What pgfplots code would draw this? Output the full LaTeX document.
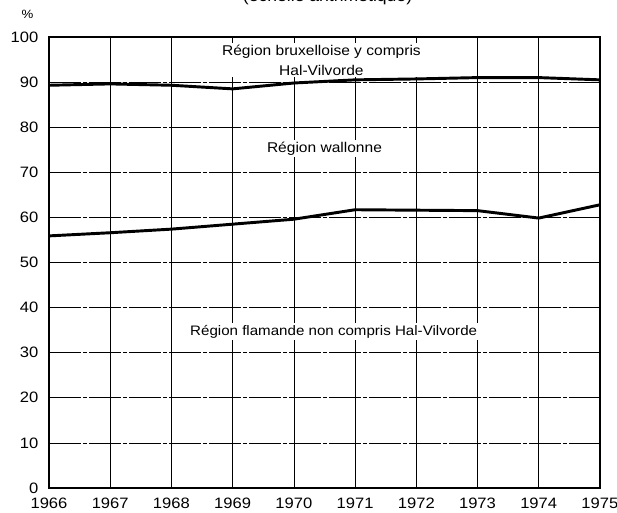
\documentclass[border=0pt]{standalone}
\usepackage{fontspec}
\setmainfont[FakeStretch=1.1]{Liberation Sans}
\usepackage{pgfplots}
\pgfplotsset{compat=1.18}
\begin{document}
\begin{tikzpicture}
\begin{axis}[
 at={(0,0)}, anchor=south west,
 scale only axis, width=413.25pt, height=338.25pt,
 xmin=1966, xmax=1975, ymin=0, ymax=100,
 xtick={1966,1967,...,1975}, ytick={0,10,...,100},
 /pgf/number format/.cd, 1000 sep={}, assume math mode=true, /pgfplots/.cd,
 tick style={draw=none},
 xmajorgrids, ymajorgrids,
 major x grid style={black, line width=0.5pt},
 major y grid style={black, line width=0.5pt, dash pattern=on 24pt off 1.5pt on 3pt off 1.5pt},
 axis line style={line width=1.5pt},
 ticklabel style={font=\fontsize{11.3}{13}\selectfont},
 xticklabel style={yshift=-4pt},
 yticklabel style={xshift=-4.5pt},
 clip=false,
]
\addplot[black, line width=2.2pt] coordinates {
 (1966,89.3) (1967,89.6) (1968,89.3) (1969,88.5) (1970,89.8)
 (1971,90.5) (1972,90.7) (1973,91.0) (1974,91.0) (1975,90.5)};
\addplot[black, line width=2.2pt] coordinates {
 (1966,55.9) (1967,56.6) (1968,57.4) (1969,58.5) (1970,59.6)
 (1971,61.7) (1972,61.6) (1973,61.5) (1974,59.85) (1975,62.8)};
\node[align=center, font=\fontsize{10.6}{15}\selectfont, fill=white, inner sep=1.5pt] at (axis cs:1970.45,94.9) {Région bruxelloise y compris\\Hal-Vilvorde};
\node[font=\fontsize{10.6}{13}\selectfont, fill=white, inner sep=1.5pt] at (axis cs:1970.5,75.3) {Région wallonne};
\node[font=\fontsize{10.3}{13}\selectfont, fill=white, inner sep=1.5pt] at (axis cs:1970.65,34.6) {Région flamande non compris Hal-Vilvorde};
\node[font=\fontsize{9}{11}\selectfont] at (axis cs:1965.65,105.1) {\%};
\node[font=\fontsize{12}{14}\selectfont] at (axis cs:1970.55,108.9) {(échelle arithmétique)};
\end{axis}
\pgfresetboundingbox
\useasboundingbox (-36.75pt,-18pt) rectangle (426pt,366pt);
\end{tikzpicture}
\end{document}
